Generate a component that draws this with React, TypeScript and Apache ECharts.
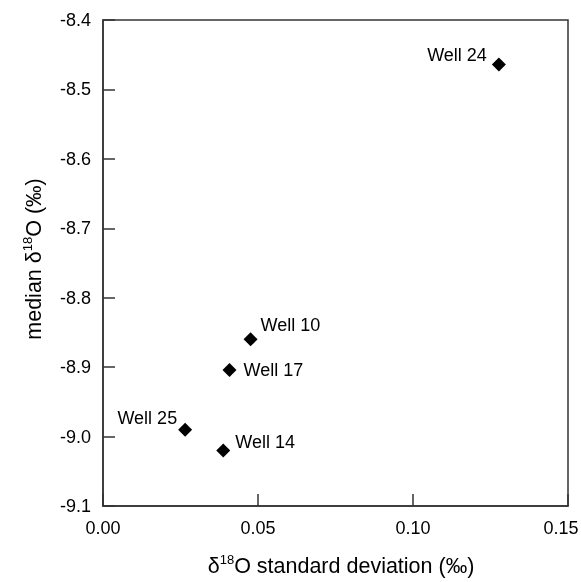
import React, { useEffect, useRef } from "react";
import * as echarts from "echarts";

const wellNames = ["Well 24", "Well 10", "Well 17", "Well 25", "Well 14"];
const stdDev = [0.1277, 0.0476, 0.0408, 0.0265, 0.0388];
const medianD18O = [-8.464, -8.860, -8.904, -8.990, -9.020];
const labelAlign = ["right", "left", "left", "right", "left"];
const labelOffset = [[-12, -9], [10, -14], [14, 0], [-8, -12], [12, -8]];
const xTicks = { min: 0, max: 0.15, interval: 0.05 };
const yTicks = { min: -9.1, max: -8.4, interval: 0.1 };

const FONT = "'Liberation Sans', Arial, Helvetica, sans-serif";
const INK = "#000";

export default function App() {
  const ref = useRef<HTMLDivElement>(null);
  useEffect(() => {
    if (!ref.current) return;
    const chart = echarts.init(ref.current, undefined, { renderer: "svg" });
    const data = wellNames.map((n, i) => ({
      name: n,
      value: [stdDev[i], medianD18O[i]],
      label: {
        show: true,
        formatter: n,
        position: "inside",
        align: labelAlign[i],
        verticalAlign: "middle",
        offset: labelOffset[i],
        color: INK,
        fontSize: 18,
        fontFamily: FONT,
      },
    }));
    const axisLine = { show: true, lineStyle: { color: "#333", width: 1.5 } };
    const rich = {
      a: { fontSize: 21.5, fontFamily: FONT, fill: INK, lineHeight: 26 },
      s: { fontSize: 13, fontFamily: FONT, fill: INK, lineHeight: 26, padding: [0, 0, 13, 0] },
    };
    chart.setOption({
      animation: false,
      grid: {
        left: 103,
        top: 20,
        right: 13,
        bottom: 76,
        show: true,
        borderColor: "#333",
        borderWidth: 1.5,
        backgroundColor: "transparent",
        containLabel: false,
        outerBoundsMode: "none",
      },
      xAxis: {
        type: "value",
        min: xTicks.min,
        max: xTicks.max,
        interval: xTicks.interval,
        axisLine,
        axisTick: { show: true, inside: true, length: 12, lineStyle: { color: "#333", width: 1.5 } },
        splitLine: { show: false },
        axisLabel: {
          margin: 13,
          color: INK,
          fontSize: 18,
          fontFamily: FONT,
          formatter: (v: number) =>
            v >= xTicks.max - 1e-9 ? "{r|" + v.toFixed(2) + "}" : v.toFixed(2),
          rich: {
            r: { fontSize: 18, fontFamily: FONT, color: INK, padding: [0, 14, 0, 0] },
          },
        },
      },
      yAxis: {
        type: "value",
        min: yTicks.min,
        max: yTicks.max,
        interval: yTicks.interval,
        axisLine,
        axisTick: { show: true, inside: true, length: 12, lineStyle: { color: "#333", width: 1.5 } },
        splitLine: { show: false },
        axisLabel: {
          margin: 12,
          color: INK,
          fontSize: 18,
          fontFamily: FONT,
          formatter: (v: number) => v.toFixed(1),
        },
      },
      series: [
        {
          type: "scatter",
          symbol: "diamond",
          symbolSize: 14,
          itemStyle: { color: "#000", opacity: 1 },
          data,
        },
      ],
      graphic: [
        {
          type: "text",
          x: 341,
          y: 566,
          style: {
            text: "{a|δ}{s|18}{a|O standard deviation (‰)}",
            align: "center",
            verticalAlign: "middle",
            fill: INK,
            rich,
          },
        },
        {
          type: "text",
          x: 34,
          y: 259,
          rotation: Math.PI / 2,
          style: {
            text: "{a|median δ}{s|18}{a|O (‰)}",
            align: "center",
            verticalAlign: "middle",
            fill: INK,
            rich,
          },
        },
      ],
    });
    return () => chart.dispose();
  }, []);
  return (
    <div
      ref={ref}
      style={{ position: "fixed", left: 0, top: 0, width: 581, height: 582 }}
    />
  );
}
